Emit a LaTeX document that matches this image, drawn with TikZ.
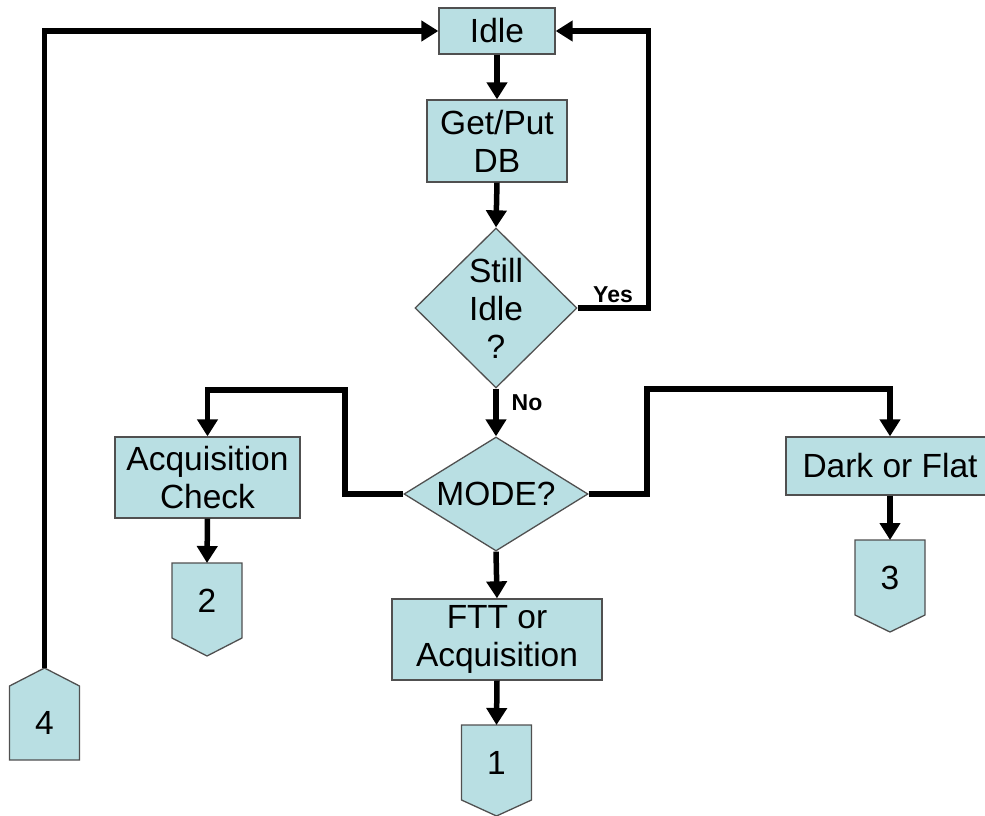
\documentclass[tikz,border=0pt]{standalone}
\usepackage{fontspec}
\setmainfont{Liberation Sans}
\usetikzlibrary{shapes.geometric,arrows.meta}

\definecolor{boxfill}{HTML}{B9DFE3}
\definecolor{boxedge}{HTML}{505050}

\tikzset{
  boxstyle/.style={draw=boxedge, fill=boxfill, line width=1.3pt},
  procbox/.style={boxstyle, rectangle, inner sep=0pt, align=center,
    font=\fontsize{33.5}{38}\selectfont},
  decision/.style={boxstyle, diamond, inner sep=0pt},
  bigtext/.style={align=center, font=\fontsize{33.5}{38}\selectfont},
  answer/.style={font=\fontsize{23}{26}\selectfont\bfseries},
  flow/.style={line width=5.5pt, line join=miter, draw=black,
    -{Triangle[width=20pt,length=17pt]}},
}

% off-page connector pointing down: name, centre x, top, shoulder, tip, label
\newcommand\pagedown[6]{%
  \draw[boxstyle] (#2-35,-#3) -- (#2+35,-#3) -- (#2+35,-#4) -- (#2,-#5)
    -- (#2-35,-#4) -- cycle;
  \coordinate (#1-top) at (#2,-#3);
  \node[bigtext] (#1) at (#2,{-(#3+#4)/2}) {#6};
}
% off-page connector pointing up: name, centre x, tip, shoulder, bottom, label
\newcommand\pageup[6]{%
  \draw[boxstyle] (#2,-#3) -- (#2+35,-#4) -- (#2+35,-#5) -- (#2-35,-#5)
    -- (#2-35,-#4) -- cycle;
  \coordinate (#1-top) at (#2,-#3);
  \node[bigtext] (#1) at (#2,{-(#4+#5)/2}) {#6};
}

\begin{document}
\begin{tikzpicture}[x=1pt,y=1pt]
  \useasboundingbox (0,0) rectangle (985,-816);

  % process boxes
  \node[procbox, minimum width=116pt, minimum height=46pt] (idle) at (497,-31) {Idle};
  \node[procbox, minimum width=140pt, minimum height=82pt] (getput) at (497,-141) {Get/Put\\DB};
  \node[procbox, minimum width=185pt, minimum height=81pt] (acq) at (207.5,-477.5) {Acquisition\\Check};
  \node[procbox, minimum width=208pt, minimum height=58pt] (dark) at (890,-466) {Dark or Flat};
  \node[procbox, minimum width=210pt, minimum height=81pt] (ftt) at (497,-639.5) {FTT or\\Acquisition};

  % decisions
  \node[decision, minimum width=162pt, minimum height=160pt] (still) at (496,-308) {};
  \node[bigtext] (stilltext) at (still) {Still\\Idle\\?};
  \node[decision, minimum width=184pt, minimum height=114pt] (mode) at (496,-494) {};
  \node[bigtext] (modetext) at (mode) {MODE?};

  % off-page connectors
  \pagedown{c1}{496.5}{725}{800}{816}{1}
  \pagedown{c2}{207}{563}{638}{656}{2}
  \pagedown{c3}{890}{540}{615}{632}{3}
  \pageup{c4}{44.5}{668}{686}{760}{4}

  % bends of the routed connectors
  \coordinate (lbend) at (345,-390);
  \coordinate (rbend) at (647,-389);

  % connectors
  \draw[flow] (idle.south) -- (getput.north);
  \draw[flow] (getput.south) -- (still.north);
  \draw[flow] (still.east) -- ++(71,0) |- (idle.east);
  \draw[flow] (still.south) -- (mode.north);
  \draw[flow] (mode.west) -| (lbend) -| (acq.north);
  \draw[flow] (mode.east) -| (rbend) -| (dark.north);
  \draw[flow] (mode.south) -- (ftt.north);
  \draw[flow] (acq.south) -- (c2-top);
  \draw[flow] (dark.south) -- (c3-top);
  \draw[flow] (ftt.south) -- (c1-top);
  \draw[flow] (c4-top) |- (idle.west);

  % branch labels
  \node[answer] (yes) at (613,-295) {Yes};
  \node[answer] (no) at (527,-403) {No};
\end{tikzpicture}
\end{document}
